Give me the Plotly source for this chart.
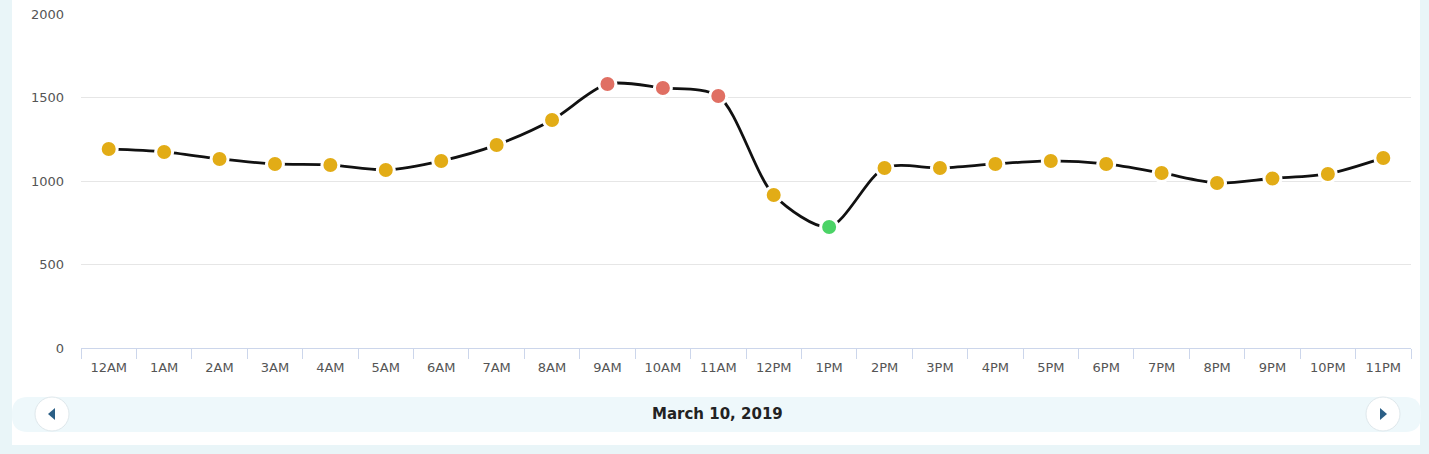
import plotly.graph_objects as go

hours = ["12AM", "1AM", "2AM", "3AM", "4AM", "5AM", "6AM", "7AM", "8AM", "9AM", "10AM", "11AM",
         "12PM", "1PM", "2PM", "3PM", "4PM", "5PM", "6PM", "7PM", "8PM", "9PM", "10PM", "11PM"]
values = [1192, 1174, 1132, 1102, 1096, 1066, 1120, 1216, 1365, 1581, 1557, 1509,
          916, 725, 1078, 1078, 1102, 1120, 1102, 1048, 988, 1015, 1042, 1138]
date_label = "March 10, 2019"

HIGH, LOW = 1450, 800
YELLOW, RED, GREEN = "#e2ac16", "#e06f63", "#4bd366"
point_colors = [RED if v >= HIGH else GREEN if v <= LOW else YELLOW for v in values]

W, H = 1429, 454
L, R, T, B = 81, 18, 14, 106
PW, PH = W - L - R, H - T - B


def px(x):
    return (x - L) / PW


def py(y):
    return (H - B - y) / PH


def rounded_rect(x0, y0, x1, y1, r):
    # path in paper coords built from pixel positions
    pts = [
        f"M {px(x0 + r)} {py(y0)}", f"L {px(x1 - r)} {py(y0)}",
        f"Q {px(x1)} {py(y0)} {px(x1)} {py(y0 + r)}", f"L {px(x1)} {py(y1 - r)}",
        f"Q {px(x1)} {py(y1)} {px(x1 - r)} {py(y1)}", f"L {px(x0 + r)} {py(y1)}",
        f"Q {px(x0)} {py(y1)} {px(x0)} {py(y1 - r)}", f"L {px(x0)} {py(y0 + r)}",
        f"Q {px(x0)} {py(y0)} {px(x0 + r)} {py(y0)}", "Z",
    ]
    return " ".join(pts)


fig = go.Figure()
fig.add_trace(go.Scatter(
    x=hours, y=values, mode="lines+markers",
    line=dict(color="#111111", width=2.8, shape="spline", smoothing=0.8),
    marker=dict(size=17, color=point_colors, line=dict(color="white", width=3)),
    hoverinfo="x+y", showlegend=False,
))

frame = "#e9f5f8"
shapes = [
    # outer frame strips
    dict(type="rect", xref="paper", yref="paper", x0=px(0), x1=px(12), y0=py(454), y1=py(0),
         fillcolor=frame, line_width=0, layer="below"),
    dict(type="rect", xref="paper", yref="paper", x0=px(1420), x1=px(1429), y0=py(454), y1=py(0),
         fillcolor=frame, line_width=0, layer="below"),
    dict(type="rect", xref="paper", yref="paper", x0=px(0), x1=px(1429), y0=py(454), y1=py(445),
         fillcolor=frame, line_width=0, layer="below"),
    # navigation bar
    dict(type="path", xref="paper", yref="paper", path=rounded_rect(12, 397, 1421, 432, 16),
         fillcolor="#eef8fb", line_width=0, layer="below"),
    # buttons
    dict(type="circle", xref="paper", yref="paper", x0=px(35), x1=px(69), y0=py(431), y1=py(397),
         fillcolor="white", line=dict(color="#dfe8ec", width=1)),
    dict(type="circle", xref="paper", yref="paper", x0=px(1366), x1=px(1400), y0=py(431), y1=py(397),
         fillcolor="white", line=dict(color="#dfe8ec", width=1)),
    dict(type="path", xref="paper", yref="paper",
         path=f"M {px(55)} {py(408)} L {px(48)} {py(414)} L {px(55)} {py(420)} Z",
         fillcolor="#2b5f86", line_width=0),
    dict(type="path", xref="paper", yref="paper",
         path=f"M {px(1380)} {py(408)} L {px(1387)} {py(414)} L {px(1380)} {py(420)} Z",
         fillcolor="#2b5f86", line_width=0),
]

fig.update_layout(
    width=W, height=H,
    margin=dict(l=L, r=R, t=T, b=B, autoexpand=False),
    paper_bgcolor="white", plot_bgcolor="white",
    font=dict(family="DejaVu Sans", size=13, color="#555555"),
    shapes=shapes,
    annotations=[dict(text=f"<b>{date_label}</b>", xref="paper", yref="paper",
                      x=px(717), y=py(414), xanchor="center", yanchor="middle", showarrow=False,
                      font=dict(family="DejaVu Sans", size=15, color="#222222"))],
    xaxis=dict(
        type="category", range=[-0.5, len(hours) - 0.5], automargin=False,
        showgrid=False, zeroline=False,
        showline=True, linecolor="#ccd6eb", linewidth=1,
        ticks="outside", tickson="boundaries", ticklen=10, tickcolor="#ccd6eb",
        ticklabelstandoff=7,
        tickfont=dict(size=13, color="#555555"), fixedrange=True,
    ),
    yaxis=dict(
        range=[0, 2000], dtick=500, automargin=False,
        showgrid=True, gridcolor="#e6e6e6", gridwidth=1,
        zeroline=False, showline=False, ticks="", ticklabelstandoff=16,
        tickfont=dict(size=13, color="#555555"), fixedrange=True,
    ),
)

fig.write_html("out.html", config={"displayModeBar": False},
               post_script="document.body.style.margin='0';")
